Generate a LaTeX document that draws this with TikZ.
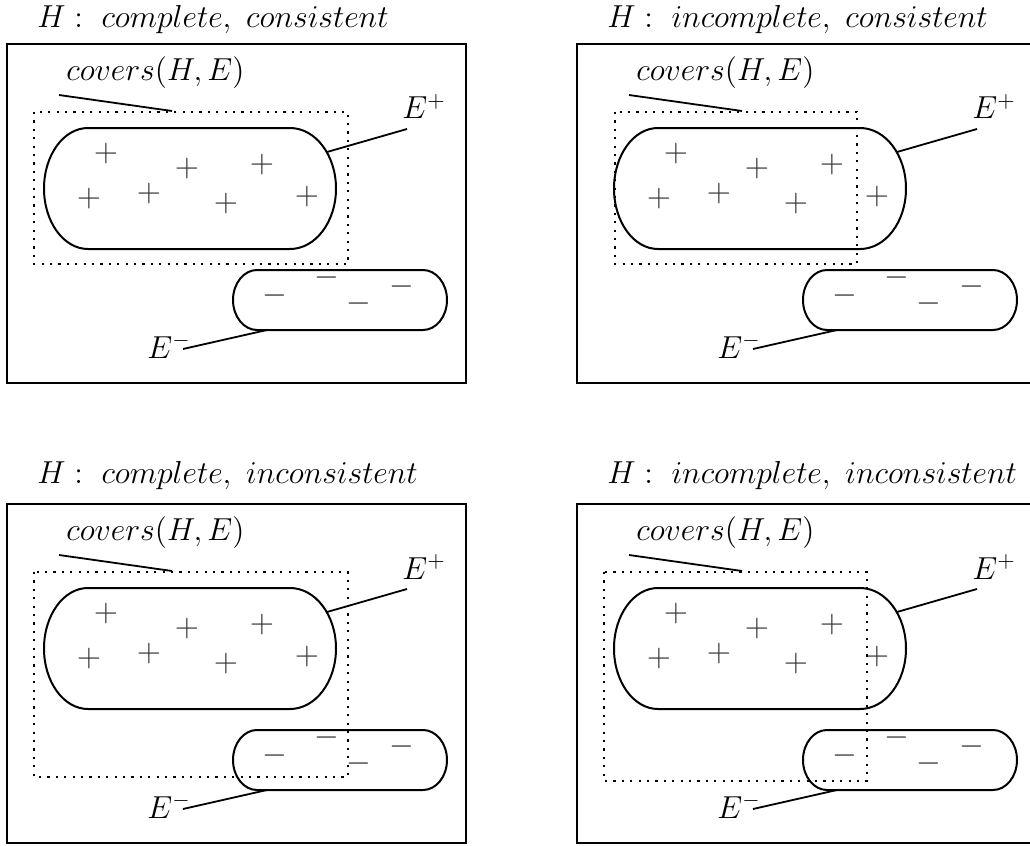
\documentclass[tikz,border=0pt]{standalone}
\usepackage{fix-cm}
\tikzset{
  panelframe/.style={draw, line width=1pt},
  exset/.style={draw, line width=1pt},
  leader/.style={draw, line width=0.9pt},
  coverbox/.style={draw, line width=1.1pt, dash pattern=on 1.1pt off 3.1pt},
  txt/.style={anchor=base west, inner sep=0pt, font=\fontsize{15.9}{19}\selectfont},
  pt/.style={inner sep=0pt, text=black!80, font=\fontsize{15.9}{19}\selectfont},
}
% #1 title, #2 title baseline, #3 cover box corner, #4 opposite corner
\newcommand\examplepanel[4]{%
  \node[txt] (title) at (37,#2) {#1};
  \draw[panelframe] (7,44) rectangle (466,383);
  % positive examples
  \draw[exset] (88,128) -- (290,128)
    arc[start angle=270, end angle=450, x radius=46, y radius=60.5]
    -- (88,249)
    arc[start angle=90, end angle=270, x radius=44, y radius=60.5] -- cycle;
  \foreach \px/\py [count=\i] in {106/154,187/169,262/165,89/199,149/194,226/204,307/197}
    \node[pt] (plus\i) at (\px,\py) {$+$};
  % negative examples
  \draw[exset] (257,270) -- (423,270)
    arc[start angle=270, end angle=450, x radius=24, y radius=30]
    -- (257,330)
    arc[start angle=90, end angle=270, x radius=24, y radius=30] -- cycle;
  \foreach \px/\py [count=\i] in {275/296,327/278,359/304,402/287}
    \node[pt] (minus\i) at (\px,\py) {$-$};
  % covered region
  \draw[coverbox] #3 rectangle #4;
  % labels with their leader lines
  \node[txt] (coverlabel) at (66,80) {$covers(H,E)$};
  \coordinate (coverstart) at (59,95);
  \coordinate (coverend) at (172,111);
  \draw[leader] (coverstart) -- (coverend);
  \node[txt] (poslabel) at (402,119) {$E^+$};
  \coordinate (posedge) at (327,152);
  \coordinate (posend) at (407,129);
  \draw[leader] (posedge) -- (posend);
  \node[txt] (neglabel) at (147,358) {$E^-$};
  \coordinate (negedge) at (267,330);
  \coordinate (negend) at (183,349);
  \draw[leader] (negedge) -- (negend);
}
\begin{document}
\begin{tikzpicture}[x=0.5pt, y=-0.5pt]
  \useasboundingbox (0,0) rectangle (1030,846);
  \fill[white] (0,0) rectangle (1030,846);
  \begin{scope}[name prefix=tl-]
    \examplepanel{$H : \ complete, \ consistent$}{27}{(34,112)}{(348,264)}
  \end{scope}
  \begin{scope}[shift={(570,0)}, name prefix=tr-]
    \examplepanel{$H : \ incomplete, \ consistent$}{27}{(45,112)}{(287,264)}
  \end{scope}
  \begin{scope}[shift={(0,460)}, name prefix=bl-]
    \examplepanel{$H : \ complete, \ inconsistent$}{23}{(34,112)}{(348,317)}
  \end{scope}
  \begin{scope}[shift={(570,460)}, name prefix=br-]
    \examplepanel{$H : \ incomplete, \ inconsistent$}{23}{(34,112)}{(297,321)}
  \end{scope}
\end{tikzpicture}
\end{document}
